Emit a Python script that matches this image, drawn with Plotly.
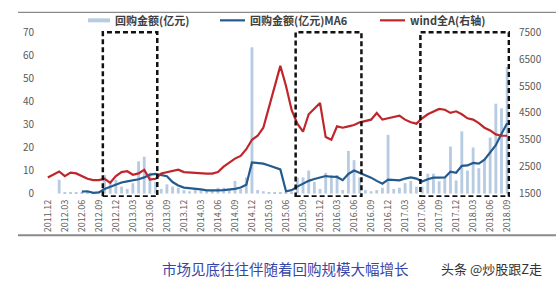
import plotly.graph_objects as go

# ---- data -------------------------------------------------------------
months = []
y, m = 2011, 12
for _ in range(82):
    months.append(f"{y}.{m:02d}")
    m += 1
    if m > 12:
        m = 1
        y += 1

buyback = [0, 0, 6, 0.3, 0.3, 0.5, 0.5, 0.3, 0.5, 1,
           8, 4.5, 6, 3, 2, 4.5, 14, 16, 9, 5,
           2, 4, 3, 2.5, 1.5, 1, 2, 1.5, 1, 1.5,
           2.5, 2.5, 1.5, 5.5, 2, 7, 63.5, 1.5, 1, 0.5,
           0.5, 0.5, 0.3, 0.5, 7, 7, 10, 5, 2, 9,
           8, 8, 1.5, 18.5, 14.5, 7, 1.5, 1, 1.5, 2.5,
           25.5, 2, 2.5, 4.5, 5.5, 3, 3, 8.6, 8.6, 5.3,
           7, 20.4, 5.7, 27, 10, 20, 11, 15, 24.3, 39,
           37, 55]

ma6 = [None] * 6 + [0.8, 1.0, 0.3, 0.5,
       2.0, 3.0, 4.0, 4.8, 5.3, 5.6, 6.2, 7.0, 8.2, 8.5,
       8.0, 7.5, 5.0, 3.5, 2.6, 2.4, 2.2, 1.8, 1.4, 1.3,
       1.4, 1.5, 1.6, 2.0, 2.6, 3.8, 13.5, 13.3, 13.0, 12.2,
       11.5, 10.5, 1.0, 1.5, 3.0, 4.3, 5.5, 6.3, 6.9, 7.6,
       7.3, 7.2, 5.8, 8.5, 10.0, 9.0, 7.8, 6.9, 5.5, 4.3,
       6.0, 5.8, 5.7, 6.5, 7.0, 6.5, 5.2, 6.2, 6.9, 6.9,
       7.0, 9.5, 9.0, 12.0, 12.2, 13.3, 13.0, 14.7, 18.0, 21.0,
       26.0, 30.5]

wind_a = [2100, 2200, 2320, 2150, 2280, 2250, 2150, 2050, 2000, 2000,
          2050, 1900, 2150, 2300, 2330, 2200, 2250, 2380, 2020, 2050,
          2250, 2300, 2350, 2390, 2300, 2280, 2270, 2260, 2240, 2240,
          2300, 2500, 2650, 2800, 2900, 3150, 3500, 3650, 3950, 4700,
          5500, 6250, 5500, 4600, 4100, 3800, 4450, 4650, 4870, 3600,
          3500, 4000, 3950, 4000, 4050, 4150, 4200, 4250, 4500, 4250,
          4300, 4350, 4400, 4250, 4150, 4100, 4300, 4450, 4550, 4650,
          4620, 4500, 4560, 4450, 4300, 4250, 4120, 3950, 3850, 3700,
          3650, 3650]

tick_labels = months[::3]
left_ticks = [0, 10, 20, 30, 40, 50, 60, 70]
right_ticks = [1500, 2500, 3500, 4500, 5500, 6500, 7500]

box_start = ["2012.10", "2015.08", "2017.06"]
box_end = ["2013.07", "2016.07", "2018.09"]

names = ["回购金额(亿元)", "回购金额(亿元)MA6", "wind全A(右轴)"]
caption = "市场见底往往伴随着回购规模大幅增长"
watermark = "头条 @炒股跟Z走"

# ---- styling ----------------------------------------------------------
C_BAR = "#b7cbe2"
C_MA = "#245b8e"
C_WIND = "#bf262c"
C_TXT = "#595959"
FONT = "Noto Sans CJK SC, Liberation Sans, sans-serif"
colors = [C_BAR, C_MA, C_WIND]
leg_widths = [4, 2.2, 2.2]
leg_line_px = [(88, 110), (220, 245), (380, 405)]   # legend key positions (px)

W, H = 556, 281
L, R = 45, 510          # plot area in px
T, B = 29.7, 197.5


def px_x(p):
    return (p - L) / (R - L)


def px_y(p):
    return (B - p) / (B - T)


xi = list(range(len(months)))
idx = {mm: i for i, mm in enumerate(months)}

fig = go.Figure()
fig.add_trace(go.Bar(x=xi, y=buyback, marker_color=C_BAR, marker_line_width=0,
                     showlegend=False, name=names[0]))
fig.add_trace(go.Scatter(x=xi, y=ma6, mode="lines", showlegend=False,
                         line=dict(color=C_MA, width=2.2), name=names[1]))
fig.add_trace(go.Scatter(x=xi, y=wind_a, mode="lines", yaxis="y2", showlegend=False,
                         line=dict(color=C_WIND, width=2.2), name=names[2]))

shapes = []
for s, e in zip(box_start, box_end):
    shapes.append(dict(type="rect", xref="x", yref="y",
                       x0=idx[s] - 0.3, x1=idx[e] + 0.3, y0=-1.3, y1=70,
                       line=dict(color="#111111", width=2.5, dash="5px,3px"),
                       fillcolor="rgba(0,0,0,0)", layer="above"))
# top and bottom rules of the picture
shapes.append(dict(type="line", xref="paper", yref="paper",
                   x0=px_x(18), x1=px_x(556), y0=px_y(12), y1=px_y(12),
                   line=dict(color="#8a8a8a", width=1.2)))
shapes.append(dict(type="line", xref="paper", yref="paper",
                   x0=px_x(18), x1=px_x(556), y0=px_y(236), y1=px_y(236),
                   line=dict(color="#8a8a8a", width=2)))

annotations = [
    dict(text=caption, xref="paper", yref="paper", x=px_x(285), y=px_y(269),
         showarrow=False, xanchor="center", yanchor="middle",
         font=dict(family=FONT, size=14.5, color="#3646a8")),
    dict(text=watermark, xref="paper", yref="paper", x=px_x(491), y=px_y(269),
         showarrow=False, xanchor="center", yanchor="middle",
         font=dict(family=FONT, size=13, color="#333333")),
]

# manual legend (keys + real text)
for name, col, lw, (a, b) in zip(names, colors, leg_widths, leg_line_px):
    shapes.append(dict(type="line", xref="paper", yref="paper",
                       x0=px_x(a), x1=px_x(b), y0=px_y(20), y1=px_y(20),
                       line=dict(color=col, width=lw)))
    annotations.append(dict(text=name, xref="paper", yref="paper",
                            x=px_x(b + 3), y=px_y(20), showarrow=False,
                            xanchor="left", yanchor="middle",
                            font=dict(family=FONT, size=11, color="#404040",
                                      weight="bold")))

fig.update_layout(
    width=W, height=H, autosize=False,
    margin=dict(l=L, r=W - R, t=T, b=H - B, pad=0),
    paper_bgcolor="white", plot_bgcolor="white",
    bargap=0.5,
    font=dict(family=FONT, color=C_TXT),
    showlegend=False,
    xaxis=dict(range=[-0.5, 81.5], tickmode="array",
               tickvals=[idx[t] for t in tick_labels], ticktext=tick_labels,
               tickangle=-90, tickfont=dict(size=9, color=C_TXT),
               showgrid=False, zeroline=False, showline=False, ticks=""),
    yaxis=dict(range=[-1.5, 71], tickvals=left_ticks, showgrid=False,
               zeroline=False, showline=False, ticks="",
               tickfont=dict(size=10, color=C_TXT), ticklabelstandoff=10),
    yaxis2=dict(range=[1500 - 1.5 * 6000 / 70, 7500 + 6000 / 70],
                tickvals=right_ticks, overlaying="y", side="right",
                showgrid=False, zeroline=False, showline=False, ticks="",
                tickfont=dict(size=10, color=C_TXT), ticklabelstandoff=8),
    shapes=shapes,
    annotations=annotations,
)

fig.write_html("out.html")
